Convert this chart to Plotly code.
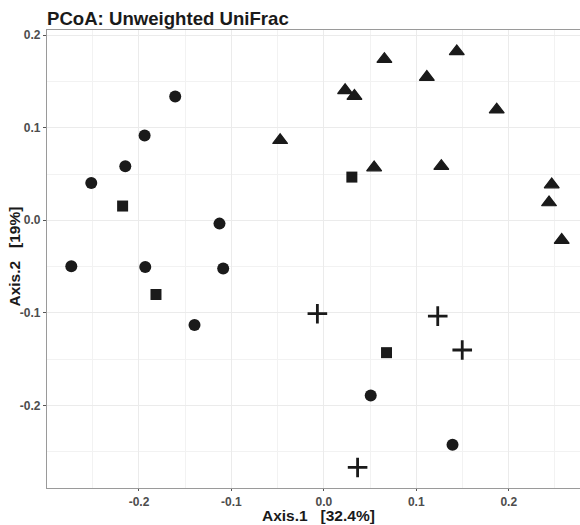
import plotly.graph_objects as go

# PCoA coordinates by group
circle_x = [-0.2732, -0.2516, -0.2148, -0.1939, -0.1608, -0.1932, -0.1129, -0.1089, -0.1399, 0.0507, 0.1392]
circle_y = [-0.0496, 0.0402, 0.0583, 0.0917, 0.1338, -0.0504, -0.0036, -0.0521, -0.1133, -0.1895, -0.2427]

square_x = [-0.2177, -0.1816, 0.0303, 0.0678]
square_y = [0.0154, -0.0802, 0.0467, -0.1431]

triangle_x = [-0.0473, 0.0655, 0.1438, 0.0230, 0.0331, 0.1114, 0.1870, 0.0544, 0.1271, 0.2465, 0.2436, 0.2573]
triangle_y = [0.0865, 0.1742, 0.1825, 0.1405, 0.1343, 0.1548, 0.1195, 0.0570, 0.0585, 0.0386, 0.0192, -0.0214]

cross_x = [-0.0070, 0.1232, 0.1497, 0.0365]
cross_y = [-0.1010, -0.1036, -0.1402, -0.2672]

x_ticks = [-0.2, -0.1, 0.0, 0.1, 0.2]
x_tick_labels = ["-0.2", "-0.1", "0.0", "0.1", "0.2"]
y_ticks = [-0.2, -0.1, 0.0, 0.1, 0.2]
y_tick_labels = ["-0.2", "-0.1", "0.0", "0.1", "0.2"]

title_text = "PCoA: Unweighted UniFrac"
x_title = "Axis.1\u00a0\u00a0\u00a0[32.4%]"
y_title = "Axis.2\u00a0\u00a0\u00a0[19%]"

INK = "#1a1a1a"
FONT = "Liberation Sans, Arial, sans-serif"

fig = go.Figure()
fig.add_trace(go.Scatter(x=circle_x, y=circle_y, mode="markers",
                         marker=dict(symbol="circle", size=12, color=INK, line=dict(width=0))))
fig.add_trace(go.Scatter(x=square_x, y=square_y, mode="markers",
                         marker=dict(symbol="square", size=11, color=INK, line=dict(width=0))))
fig.add_trace(go.Scatter(x=triangle_x, y=triangle_y, mode="markers",
                         marker=dict(symbol="triangle-up", size=13, color=INK,
                                     line=dict(width=1.2, color=INK))))
fig.add_trace(go.Scatter(x=cross_x, y=cross_y, mode="markers",
                         marker=dict(symbol="cross-thin", size=14, color=INK,
                                     line=dict(width=2.8, color=INK))))

axis_common = dict(
    showgrid=True, gridcolor="#ebebeb", gridwidth=1,
    zeroline=False,
    showline=True, linecolor="#9a9a9a", linewidth=1.3,
    ticks="outside", tickwidth=1, tickcolor="#555555",
    tickfont=dict(family=FONT, size=12, color="#4d4d4d", weight="bold"),
    minor=dict(showgrid=True, gridcolor="#f2f2f2", gridwidth=0.8, dtick=0.05, ticks=""),
)

fig.update_layout(
    width=580, height=525,
    margin=dict(l=47, r=0, t=30, b=37),
    paper_bgcolor="white", plot_bgcolor="white",
    showlegend=False,
    title=dict(text=title_text, x=47 / 580, xanchor="left", xref="container",
               y=1 - 18.5 / 525, yanchor="middle", yref="container",
               font=dict(family=FONT, size=18.6, color="#1a1a1a", weight="bold")),
    xaxis=dict(range=[-0.2995, 0.2771], tickvals=x_ticks, ticktext=x_tick_labels,
               mirror=True, ticklen=2, **axis_common),
    yaxis=dict(range=[-0.2894, 0.2057], tickvals=y_ticks, ticktext=y_tick_labels,
               mirror=False, ticklen=3, **axis_common),
)

fig.add_annotation(text=x_title, xref="paper", yref="paper",
                   x=(318 - 47) / 533, y=-(515 - 488) / 458,
                   xanchor="center", yanchor="middle", showarrow=False,
                   font=dict(family=FONT, size=15.5, color="#1a1a1a", weight="bold"))
fig.add_annotation(text=y_title, xref="paper", yref="paper",
                   x=(13.5 - 47) / 533, y=(488 - 257) / 458, textangle=-90,
                   xanchor="center", yanchor="middle", showarrow=False,
                   font=dict(family=FONT, size=15.5, color="#1a1a1a", weight="bold"))

fig.write_html("out.html", config={"displayModeBar": False},
               post_script="document.body.style.margin='0';document.body.style.overflow='hidden';")
